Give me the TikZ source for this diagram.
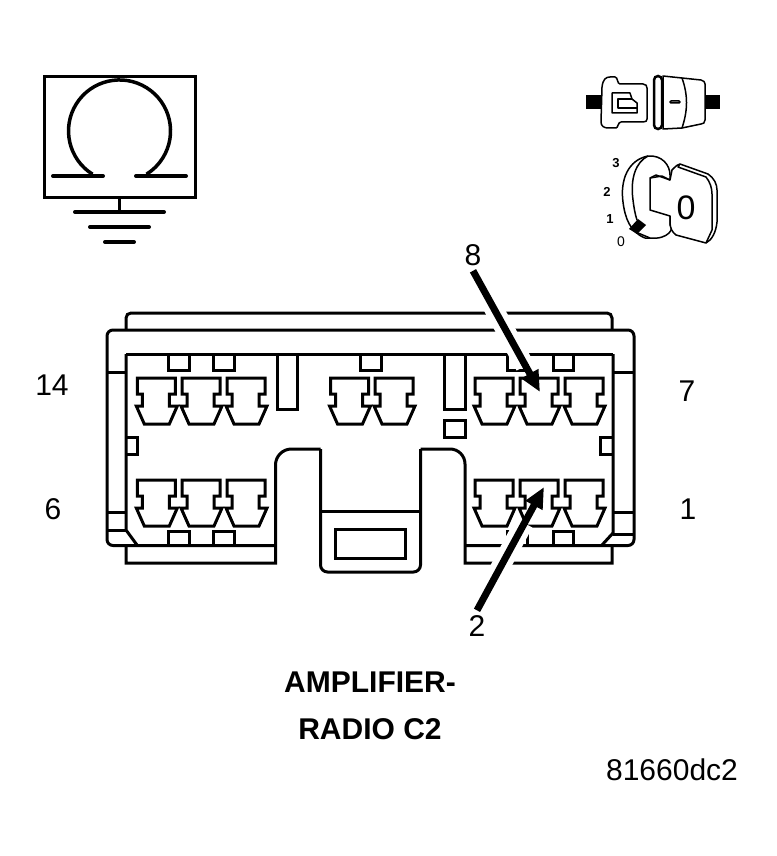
\documentclass[tikz,border=0pt]{standalone}
\usepackage{fontspec}
\setmainfont{Liberation Sans}
\usetikzlibrary{arrows.meta,positioning}
\tikzset{
  wire/.style={draw=black,line width=3pt,line join=miter},
  thin line/.style={draw=black,line width=1.5pt,line join=round},
  pointer/.style={draw=black,line width=7pt,-{Triangle[length=21pt,width=18pt]}},
  halo/.style={draw=white,line width=19pt},
  terminal/.pic={
    \draw[wire] (-19,0) -- (-19,16) -- (-14,16) -- (-14,28) -- (-20,28) -- (-12,46)
      -- (13,46) -- (21,28) -- (13,28) -- (13,16) -- (19,16) -- (19,0) -- cycle;
  }
}
\begin{document}
\begin{tikzpicture}[x=1pt,y=-1pt,every node/.style={font=\fontsize{30}{30}\selectfont,inner sep=5pt}]
   \useasboundingbox (0,0) rectangle (776,856);
   % ground symbol
   \draw[wire] (44,77) rectangle (195,197);
   \draw[wire,line width=3.5pt] (92.5,174.2) arc (122:418:51);
   \draw[wire,line width=4pt,line cap=round] (53,176) -- (103,176);
   \draw[wire,line width=4pt,line cap=round] (136,176) -- (186,176);
   \draw[wire] (119.5,197) -- (119.5,212);
   \draw[wire,line width=4pt,line cap=round] (75,212) -- (164,212);
   \draw[wire,line width=4pt,line cap=round] (90,227) -- (149,227);
   \draw[wire,line width=4pt,line cap=round] (105,242) -- (134,242);
   % plug and socket
   \fill (586,95) rectangle (602,109);
   \fill (705,95) rectangle (720,109);
   \draw[thin line,fill=white] (602,87) .. controls (603,79) and (606,77) .. (610,77) -- (615,77)
     .. controls (618,77) and (617,84) .. (620,84) -- (643,84) .. controls (646,84) and (647,86) .. (647,88)
     -- (647,119) .. controls (647,121) and (646,122) .. (643,122) -- (621,122)
     .. controls (618,122) and (618,128) .. (616,128) -- (608,128) .. controls (604,128) and (601,126) .. (601,122) -- cycle;
   \draw[thin line] (612,93) -- (630,93) -- (632,99) -- (637,103) -- (637,113) -- (612,113) -- cycle;
   \draw[thin line] (632,99) -- (618,99) -- (618,108) -- (637,108);
   \draw[thin line,fill=white] (663,76) -- (682,78) -- (701,80) .. controls (704,81) and (705,82) .. (705,84)
     -- (705,120) .. controls (705,123) and (703,124) .. (701,124) -- (682,128) -- (663,129) -- cycle;
   \draw[thin line] (682,78) .. controls (688,95) and (688,110) .. (682,128);
   \draw[draw=black,line width=2.5pt,fill=white,rounded corners=4pt] (654,76) rectangle (662,129);
   \draw[thin line,rounded corners=1pt] (670,101) rectangle (680,103);
   % key
   \draw[thin line,fill=white] (648,156) .. controls (628,160) and (620,180) .. (623,202)
     .. controls (625,218) and (630,232) .. (645,238) -- (650,238)
     .. controls (668,240) and (675,228) .. (670,225) -- (670,175) .. controls (670,165) and (662,155) .. (648,156) -- cycle;
   \draw[thin line] (648,156) .. controls (636,162) and (630,178) .. (633,200) .. controls (634,208) and (635,214) .. (637,220);
   \draw[thin line,fill=white] (672,170) .. controls (676,166) and (678,164) .. (680,164) -- (708,174)
     .. controls (714,178) and (717,184) .. (717,190) -- (717,222) .. controls (716,232) and (712,240) .. (706,243)
     -- (676,235) .. controls (672,232) and (670,228) .. (670,222) -- (670,216) -- (650,210) -- (650,178) -- (656,175) -- (670,180) -- cycle;
   \draw[thin line] (650,178) -- (662,176) -- (670,180);
   \draw[thin line] (680,164) -- (678,167) -- (706,177) .. controls (710,182) and (712,188) .. (712,194) -- (712,230) -- (706,243);
   \fill (629,229) -- (638,219) -- (646,225) -- (637,234) -- cycle;
   \draw[thin line] (638,233) -- (650,238);
   \node[font=\fontsize{34}{34}\selectfont] (keyzero) at (686,208) {0};
   \begin{scope}[every node/.style={font=\fontsize{13}{13}\selectfont\bfseries,inner sep=1pt}]
    \node (pos3) at (616,163) {3};
    \node (pos2) at (607,192) {2};
    \node (pos1) at (610,219) {1};
    \node[font=\fontsize{14}{14}\selectfont] (pos0) at (621,242) {0};
   \end{scope}
   % connector body
   \draw[wire,rounded corners=5pt] (126,330) -- (126,313) -- (612,313) -- (612,330);
   \draw[wire,rounded corners=6pt] (275.5,545.5) -- (107,545.5) -- (107,330) -- (634,330) -- (634,545.5) -- (465,545.5);
   \draw[wire] (126,354) -- (613,354);
   \draw[wire] (126,354) -- (126,530) -- (137,545);
   \draw[wire] (613,354) -- (613,533) -- (602,545);
   \draw[wire] (107,372) -- (126,372);
   \draw[wire] (107,512) -- (126,512);
   \draw[wire] (107,530) -- (126,530);
   \draw[wire] (613,372) -- (634,372);
   \draw[wire] (613,512) -- (634,512);
   \draw[wire] (613,534) -- (634,534);
   % skirt and latch
   \draw[wire] (126,545) -- (126,563) -- (275.5,563) -- (275.5,465) arc (180:270:16) -- (320.5,449);
   \draw[wire,rounded corners=7pt] (320.5,449) -- (320.5,572) -- (420.5,572) -- (420.5,449);
   \draw[wire] (420.5,449) -- (450,449) arc (270:360:15) -- (465,563) -- (612,563) -- (612,545);
   \draw[wire] (320.5,511) -- (420.5,511);
   \draw[wire] (335,529) rectangle (405,558);
   % tabs
   \draw[wire] (168.5,354) -- (168.5,370) -- (189,370) -- (189,354);
   \draw[wire] (213.5,354) -- (213.5,370) -- (234,370) -- (234,354);
   \draw[wire] (360,354) -- (360,370) -- (381,370) -- (381,354);
   \draw[wire] (507,354) -- (507,370) -- (527,370) -- (527,354);
   \draw[wire] (553,354) -- (553,370) -- (573,370) -- (573,354);
   \draw[wire] (168.5,545) -- (168.5,531) -- (189,531) -- (189,545);
   \draw[wire] (213.5,545) -- (213.5,531) -- (234,531) -- (234,545);
   \draw[wire] (507,545) -- (507,531) -- (527,531) -- (527,545);
   \draw[wire] (553,545) -- (553,531) -- (573,531) -- (573,545);
   \draw[wire] (277,354) rectangle (297,409);
   \draw[wire] (444,354) rectangle (465,409);
   \draw[wire] (444,420) rectangle (465,437);
   \draw[wire] (126,437) -- (137,437) -- (137,454) -- (126,454);
   \draw[wire] (613,437) -- (600,437) -- (600,454) -- (613,454);
   % terminals
   \pic at (156.3,378) {terminal};
   \pic at (201,378) {terminal};
   \pic at (246,378) {terminal};
   \pic at (349.5,378) {terminal};
   \pic at (394,378) {terminal};
   \pic at (494,378) {terminal};
   \pic at (539,378) {terminal};
   \pic at (584,378) {terminal};
   \pic at (156.3,480) {terminal};
   \pic at (201,480) {terminal};
   \pic at (246,480) {terminal};
   \pic at (494,480) {terminal};
   \pic at (539,480) {terminal};
   \pic at (584,480) {terminal};
   % cavity numbers
   \node (pin14) at (52,385) {14};
   \node (pin7) at (687,391) {7};
   \node (pin6) at (53,509) {6};
   \node (pin1) at (688,509) {1};
   \node (pin8) at (473,255) {8};
   \node (pin2) at (477,626) {2};
   \coordinate (tip8) at (540,392);
   \coordinate (tip2) at (544,487);
   \coordinate (gap8) at (525,366);
   \coordinate (gap2) at (524,523);
   \draw[halo] (pin8.south) -- (gap8);
   \draw[halo] (pin2.north) -- (gap2);
   \draw[pointer] (pin8.south) -- (tip8);
   \draw[pointer] (pin2.north) -- (tip2);
   % captions
   \node[font=\fontsize{30}{30}\selectfont\bfseries] (title1) at (370,682) {AMPLIFIER-};
   \node[font=\fontsize{30}{30}\selectfont\bfseries] (title2) at (370,729) {RADIO C2};
   \node (figno) at (672,770) {81660dc2};
\end{tikzpicture}
\end{document}
